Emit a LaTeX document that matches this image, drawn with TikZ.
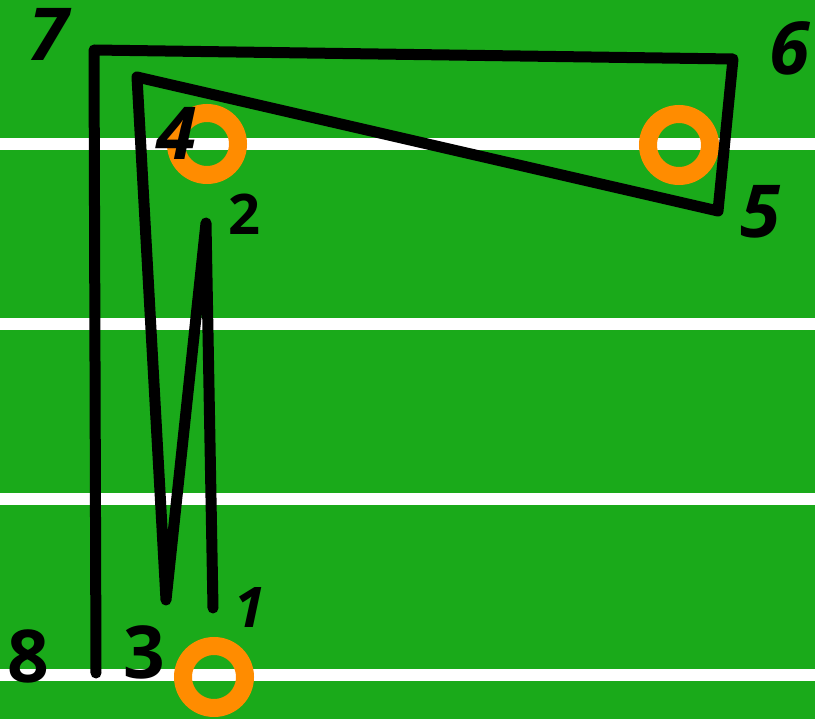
\documentclass[tikz,border=0pt]{standalone}
\usepackage{fontspec}
\setmainfont{Open Sans}
\definecolor{field}{RGB}{26,170,26}
\definecolor{ring}{RGB}{255,140,0}
\begin{document}
\begin{tikzpicture}[x=1pt,y=-1pt,
  yardline/.style={white,line width=12pt},
  cone/.style={circle,draw=ring,line width=18pt,minimum size=62pt,inner sep=0pt},
  route/.style={black,line width=11pt,line cap=round,line join=round},
  numbig/.style={font=\fontsize{73}{73}\selectfont\bfseries,inner sep=0pt,text=black},
  numsmall/.style={font=\fontsize{56}{56}\selectfont\bfseries,inner sep=0pt,text=black}]
\fill[field] (0,0) rectangle (815,719);
\useasboundingbox (0,0) rectangle (815,719);
\foreach \y in {144,324,499,675} \draw[yardline] (0,\y) -- (815,\y);
\node[cone] (c4) at (207,144) {};
\node[cone] (c5) at (679,145) {};
\node[cone] (c1) at (214,677) {};
\coordinate (p1) at (213,608);
\coordinate (p2) at (206,223);
\coordinate (p3) at (166,600);
\coordinate (p4) at (137,77);
\coordinate (p5) at (718,211);
\coordinate (p6) at (733,59);
\coordinate (p7) at (94,50);
\coordinate (p8) at (96,673);
\draw[route] (p1) -- (p2) -- (p3) -- (p4) -- (p5) -- (p6) -- (p7) -- (p8);
\node[numbig] (l7) at (49,34) {\itshape 7};
\node[numbig] (l6) at (790,48) {\itshape 6};
\node[numbig] (l4) at (177,133) {\itshape 4};
\node[numsmall] (l2) at (244,214) {2};
\node[numbig] (l5) at (761,212) {\itshape 5};
\node[numsmall] (l1) at (250,608) {\itshape 1};
\node[numbig] (l3) at (144,652) {3};
\node[numbig] (l8) at (28,656) {8};
\end{tikzpicture}
\end{document}
